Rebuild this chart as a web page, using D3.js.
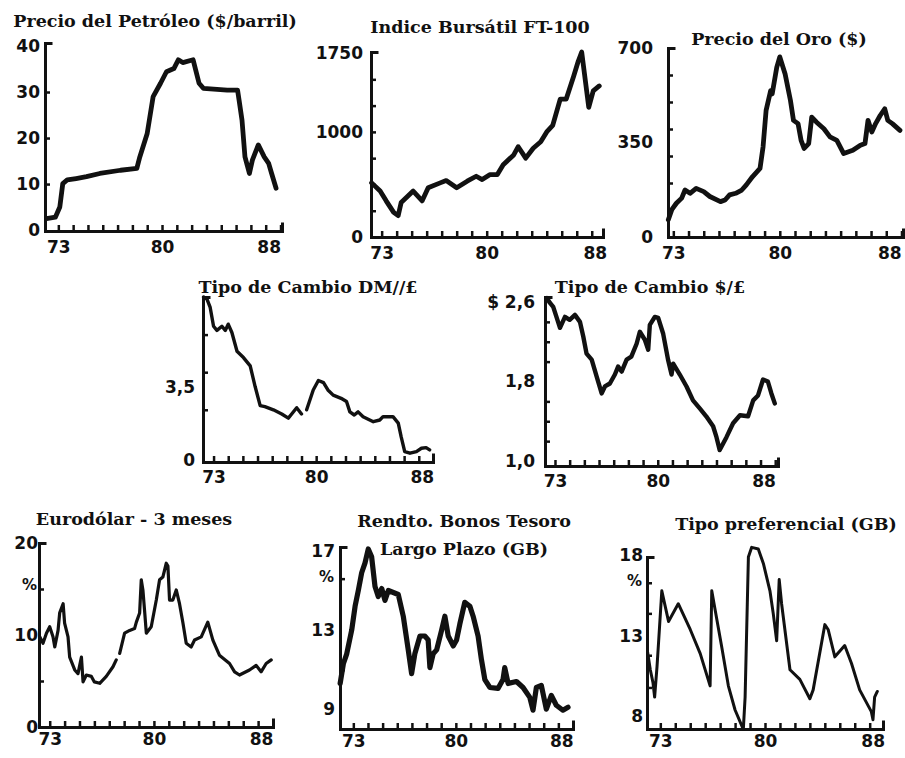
<!DOCTYPE html>
<html>
<head>
<meta charset="utf-8">
<script src="https://cdn.jsdelivr.net/npm/d3@7"></script>
<style>
  body { margin: 0; background: #fff; }
</style>
</head>
<body>
<div id="chart"></div>
<script>
// ---------------------------------------------------------------
// Eight small indicator panels, 1973-88
// ---------------------------------------------------------------

// Precio del Petróleo ($/barril)
let oilYears  = [1972.2,1972.8,1973.1,1973.3,1973.6,1974.2,1974.9,1975.8,1977.2,1978.3,1978.5,1979.0,1979.4,1979.9,1980.3,1980.8,1981.1,1981.4,1982.1,1982.5,1982.8,1984.4,1985.1,1985.2,1985.4,1985.6,1985.9,1986.1,1986.5,1986.9,1987.2,1987.4,1987.7];
let oilValues = [2.5,2.8,5,10.1,10.9,11.2,11.6,12.3,13,13.4,15.9,21,29,31.9,34.4,35.1,37,36.4,37,31.9,30.8,30.4,30.4,28.3,23.9,15.9,12.3,15.2,18.5,15.9,14.5,12.3,9.1];

// Indice Bursátil FT-100
let ftYears  = [1972.33,1972.9,1973.3,1973.8,1974.1,1974.3,1975.1,1975.7,1976.1,1976.9,1977.3,1978.0,1978.7,1979.3,1979.7,1980.2,1980.7,1981.1,1981.8,1982.1,1982.6,1983.1,1983.6,1984.0,1984.4,1984.9,1985.3,1985.8,1986.1,1986.33,1986.8,1987.1,1987.5];
let ftValues = [515,437,344,234,203,328,437,344,469,515,537,469,531,578,546,593,593,687,781,859,750,844,906,1000,1062,1312,1312,1531,1672,1760,1234,1390,1437];

// Precio del Oro ($)
let goldYears  = [1972.67,1972.9,1973.2,1973.55,1973.77,1974.1,1974.5,1975.0,1975.4,1976.1,1976.4,1976.7,1977.1,1977.5,1977.8,1978.2,1978.7,1978.9,1979.1,1979.4,1979.5,1979.8,1980.0,1980.35,1980.7,1980.9,1981.2,1981.4,1981.6,1981.9,1982.1,1982.4,1982.9,1983.3,1983.75,1984.2,1984.8,1985.3,1985.6,1985.8,1986.05,1986.3,1986.6,1986.9,1987.1,1987.4,1987.9];
let goldValues = [64,101,125,144,174,162,180,168,150,131,137,156,162,174,193,223,254,334,469,542,530,628,667,604,506,432,420,358,328,346,444,426,401,371,358,309,321,340,346,432,389,420,450,475,432,420,395];

// Tipo de Cambio DM/£ (null = gap in the printed line)
let dmYears  = [1972.32,1972.55,1972.77,1973.0,1973.23,1973.57,1973.8,1974.0,1974.25,1974.6,1975.04,1975.5,1975.84,1976.18,1976.5,1977.08,1977.65,1978.1,1978.33,1978.67,1979.0,1979.17,1979.35,1979.8,1980.15,1980.5,1980.8,1981.16,1981.7,1982.07,1982.3,1982.6,1982.86,1983.2,1983.9,1984.34,1984.56,1985.24,1985.6,1985.8,1986.04,1986.4,1986.84,1987.18,1987.5,1987.74];
let dmValues = [7.8,7.7,7.3,6.4,6.2,6.4,6.2,6.5,6.1,5.2,4.9,4.5,3.5,2.6,2.55,2.4,2.2,2.0,2.2,2.5,2.2,null,2.4,3.35,3.8,3.7,3.35,3.1,2.95,2.8,2.3,2.15,2.3,2.07,1.83,1.91,2.07,2.07,1.76,1.1,0.4,0.32,0.4,0.56,0.59,0.48];

// Tipo de Cambio $/£
let usdYears  = [1972.44,1972.66,1972.88,1973.1,1973.34,1973.68,1974.0,1974.36,1974.7,1974.93,1975.15,1975.5,1975.84,1976.18,1976.4,1976.74,1977.08,1977.3,1977.54,1977.88,1978.2,1978.56,1978.78,1979.12,1979.35,1979.46,1979.8,1980.03,1980.37,1980.7,1980.94,1981.05,1981.5,1981.96,1982.4,1982.86,1983.3,1983.77,1984.0,1984.22,1984.68,1985.13,1985.6,1986.15,1986.5,1986.83,1987.17,1987.5,1987.74,1987.97];
let usdValues = [2.64,2.59,2.55,2.45,2.34,2.45,2.42,2.47,2.40,2.25,2.08,2.02,1.85,1.68,1.75,1.78,1.87,1.95,1.90,2.02,2.05,2.18,2.30,2.22,2.12,2.37,2.45,2.44,2.28,2.02,1.87,1.98,1.87,1.75,1.61,1.53,1.45,1.35,1.24,1.11,1.24,1.38,1.46,1.45,1.61,1.66,1.82,1.80,1.68,1.58];

// Eurodólar - 3 meses (%)
let euroYears  = [1972.33,1972.55,1972.78,1973.0,1973.22,1973.34,1973.56,1973.67,1973.9,1974.0,1974.23,1974.34,1974.68,1974.9,1975.13,1975.24,1975.46,1975.8,1976.0,1976.36,1976.8,1977.25,1977.47,1977.58,1977.7,1978.03,1978.37,1978.7,1978.82,1979.04,1979.15,1979.26,1979.37,1979.49,1979.82,1980.16,1980.38,1980.6,1980.83,1980.94,1981.05,1981.27,1981.5,1981.72,1981.95,1982.17,1982.5,1982.73,1983.18,1983.62,1983.96,1984.4,1985.08,1985.42,1985.75,1986.42,1986.87,1987.2,1987.54,1987.88];
let euroValues = [9.8,9.1,10.2,10.9,9.8,8.7,10.5,12.4,13.4,11.3,9.8,7.6,6.2,5.8,7.6,4.9,5.65,5.5,4.9,4.75,5.5,6.55,7.3,null,8.0,10.2,10.5,10.7,11.4,12.4,16.0,14.9,12.7,10.2,10.9,13.8,16.0,16.3,17.8,17.5,13.8,13.8,14.9,13.4,11.3,9.1,8.7,9.45,9.8,11.4,9.45,7.8,6.9,6.0,5.65,6.2,6.7,6.0,6.9,7.3];

// Rendto. Bonos Tesoro Largo Plazo (GB) (%)
let giltYears  = [1972.1,1972.32,1972.55,1972.89,1973.12,1973.34,1973.57,1973.8,1974.02,1974.25,1974.48,1974.7,1974.94,1975.16,1975.39,1975.73,1976.07,1976.41,1976.75,1976.98,1977.2,1977.55,1977.89,1978.11,1978.23,1978.45,1978.69,1979.03,1979.25,1979.48,1979.82,1980.05,1980.27,1980.61,1980.96,1981.18,1981.52,1981.75,1981.98,1982.32,1982.88,1983.22,1983.34,1983.57,1984.14,1984.59,1985.05,1985.27,1985.5,1985.84,1986.18,1986.52,1986.86,1987.31,1987.66];
let giltValues = [10.3,11.3,11.8,13.0,14.2,15.0,15.9,16.4,17.1,16.7,15.2,14.7,15.1,14.5,15.0,14.9,14.8,13.7,12.0,10.8,11.8,12.7,12.7,12.5,11.1,11.8,12.0,13.0,13.7,12.7,12.2,12.5,13.3,14.4,14.2,13.7,12.7,11.5,10.5,10.1,10.05,10.5,11.1,10.3,10.4,10.1,9.6,8.95,10.1,10.2,9.0,9.7,9.2,8.95,9.1];

// Tipo preferencial (GB) (%)
let primeYears  = [1972.15,1972.33,1972.51,1972.62,1972.78,1972.89,1973.1,1973.55,1974.2,1975.0,1975.67,1976.33,1976.44,1976.67,1977.11,1977.55,1978.0,1978.55,1978.67,1978.89,1979.11,1979.55,1979.89,1980.33,1980.55,1980.78,1980.95,1981.11,1981.67,1982.33,1983.0,1983.22,1984.0,1984.22,1984.67,1985.33,1985.78,1986.33,1987.11,1987.22,1987.33,1987.51];
let primeValues = [12.0,10.9,10.1,9.2,11.1,12.7,15.8,13.9,15.0,13.4,11.9,9.9,15.8,14.6,12.3,9.9,8.4,7.2,9.2,17.9,18.5,18.4,17.5,15.8,14.4,12.7,16.5,15.0,10.9,10.3,9.1,9.65,13.7,13.4,11.7,12.4,11.3,9.65,8.3,7.8,9.2,9.55];

// Tick labels
let yearTicks = d3.range(1973, 1989);
let yearLabelAt = [1973, 1980, 1987.2];
let yearLabels = ["73", "80", "88"];

// panel text + axis labels, built from the arrays above
let panels = [
  {title: ["Precio del Petróleo ($/barril)"], years: oilYears, values: oilValues,
   yLabelAt: [0,10,20,30,40], yLabels: ["0","10","20","30","40"], yMinor: [10,20,30]},
  {title: ["Indice Bursátil FT-100"], years: ftYears, values: ftValues,
   yLabelAt: [0,1000,1750], yLabels: ["0","1000","1750"], yMinor: [250,500,750,1000,1250,1500]},
  {title: ["Precio del Oro ($)"], years: goldYears, values: goldValues,
   yLabelAt: [0,350,700], yLabels: ["0","350","700"], yMinor: [100,200,300,400,500,600]},
  {title: ["Tipo de Cambio DM//£"], years: dmYears, values: dmValues,
   yLabelAt: [0,3.5], yLabels: ["0","3,5"], yMinor: [2.4,4.2,6.0]},
  {title: ["Tipo de Cambio $/£"], years: usdYears, values: usdValues,
   yLabelAt: [1.0,1.8,2.6], yLabels: ["1,0","1,8","$ 2,6"], yMinor: [1.2,1.4,1.6,2.0,2.2,2.4]},
  {title: ["Eurodólar - 3 meses"], years: euroYears, values: euroValues,
   yLabelAt: [0,10,20], yLabels: ["0","10","20"], yMinor: [5,15], unitAt: 15.5},
  {title: ["Rendto. Bonos Tesoro", "Largo Plazo (GB)"], years: giltYears, values: giltValues,
   yLabelAt: [9,13,17], yLabels: ["9","13","17"], yMinor: [11,15.6], unitAt: 15.7},
  {title: ["Tipo preferencial (GB)"], years: primeYears, values: primeValues,
   yLabelAt: [8,13,18], yLabels: ["8","13","18"], yMinor: [9.8,11.8,14.4,16.3], unitAt: 16.45}
];

// where each panel sits on the page (pixels) and what value range its axes span
let layout = [
  {left:45,  right:282, top:43,  bottom:231, x0:1972.1,  x1:1988.1,  y0:-0.2, y1:40.65, line:4.8, yPad:5,  xPad:10, tx:155, ty:[27]},
  {left:371, right:603, top:52,  bottom:237, x0:1972.29, x1:1987.75, y0:0,    y1:1760,  line:4.8, yPad:8,  xPad:10, tx:480, ty:[33]},
  {left:668, right:903, top:48,  bottom:237, x0:1972.65, x1:1988.1,  y0:0,    y1:700,   line:4.8, yPad:15, xPad:10, tx:779, ty:[45]},
  {left:203, right:433, top:297, bottom:462, x0:1972.28, x1:1987.97, y0:-0.1, y1:7.8,   line:3.4, yPad:8,  xPad:9,  tx:308, ty:[293]},
  {left:545, right:778, top:297, bottom:466, x0:1972.32, x1:1988.19, y0:0.95, y1:2.65,  line:4.4, yPad:10, xPad:9,  tx:650, ty:[293]},
  {left:39,  right:273, top:543, bottom:727, x0:1972.28, x1:1988.0,  y0:0,    y1:20,    line:3.2, yPad:1,  xPad:6,  tx:134, ty:[525]},
  {left:340, right:573, top:547, bottom:729, x0:1972.09, x1:1988.0,  y0:8,    y1:17.2,  line:5.2, yPad:5,  xPad:6,  tx:464, ty:[527,555]},
  {left:647, right:883, top:557, bottom:729, x0:1972.11, x1:1987.89, y0:7.22, y1:17.9,  line:3,   yPad:4,  xPad:6,  tx:786, ty:[530]}
];

let svg = d3.select("#chart")
  .append("svg")
  .attr("width", 905)
  .attr("height", 758)
  .style("background", "#fff");

panels.forEach((p, i) => drawPanel(p, layout[i]));

function drawPanel(p, L) {
  let x = d3.scaleLinear().domain([L.x0, L.x1]).range([L.left, L.right]);
  let y = d3.scaleLinear().domain([L.y0, L.y1]).range([L.bottom, L.top]);

  let g = svg.append("g");

  // title (serif, one or two lines)
  g.selectAll("text.title")
    .data(p.title)
    .enter()
    .append("text")
    .attr("class", "title")
    .attr("x", L.tx)
    .attr("y", (d, k) => L.ty[k])
    .attr("text-anchor", "middle")
    .attr("font-family", "DejaVu Serif, serif")
    .attr("font-weight", "bold")
    .attr("font-size", 17.5)
    .attr("fill", "#111")
    .text(d => d);

  // year ticks pointing up into the plot
  let xTicks = yearTicks.filter(t => t >= L.x0 && t <= L.x1);
  g.append("g")
    .attr("transform", `translate(0,${L.bottom})`)
    .call(d3.axisBottom(x).tickValues(xTicks).tickSize(-6).tickSizeOuter(-7).tickFormat(""))
    .call(styleAxis);

  // year labels
  g.append("g")
    .attr("transform", `translate(0,${L.bottom})`)
    .call(d3.axisBottom(x).tickValues(yearLabelAt).tickSize(0).tickPadding(L.xPad)
      .tickFormat((d, k) => yearLabels[k]))
    .call(labelAxis);

  // value axis with small inward ticks and a serif at the top
  g.append("g")
    .attr("transform", `translate(${L.left},0)`)
    .call(d3.axisLeft(y).tickValues(p.yMinor).tickSize(-5).tickSizeOuter(-6).tickFormat(""))
    .call(styleAxis);

  g.append("g")
    .attr("transform", `translate(${L.left},0)`)
    .call(d3.axisLeft(y).tickValues(p.yLabelAt).tickSize(0).tickPadding(L.yPad)
      .tickFormat((d, k) => p.yLabels[k]))
    .call(labelAxis);

  if (p.unitAt != null) {
    g.append("text")
      .attr("x", L.left - L.yPad - 1)
      .attr("y", y(p.unitAt))
      .attr("dy", "0.35em")
      .attr("text-anchor", "end")
      .attr("font-family", "DejaVu Sans, sans-serif")
      .attr("font-weight", "bold")
      .attr("font-size", 15)
      .attr("fill", "#111")
      .text("%");
  }

  // the series
  let pts = p.years.map((yr, k) => ({year: yr, value: p.values[k]}));
  let line = d3.line()
    .defined(d => d.value != null)
    .x(d => x(d.year))
    .y(d => y(d.value));

  g.append("path")
    .datum(pts)
    .attr("d", line)
    .attr("fill", "none")
    .attr("stroke", "#111")
    .attr("stroke-width", L.line)
    .attr("stroke-linejoin", "round")
    .attr("stroke-linecap", "round");
}

function styleAxis(sel) {
  sel.select(".domain").attr("stroke", "#111").attr("stroke-width", 3).attr("stroke-linecap", "square");
  sel.selectAll(".tick line").attr("stroke", "#111").attr("stroke-width", 2.5);
}

function labelAxis(sel) {
  sel.select(".domain").remove();
  sel.attr("font-family", "DejaVu Sans, sans-serif")
    .attr("font-size", 17)
    .attr("font-weight", "bold");
  sel.selectAll("text").attr("fill", "#111");
}
</script>
</body>
</html>
